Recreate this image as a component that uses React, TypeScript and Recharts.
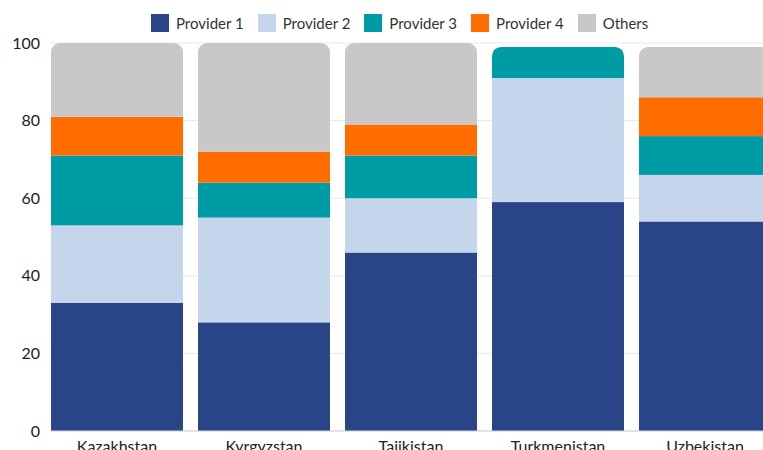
import React from "react";
import { BarChart, Bar, XAxis, YAxis, CartesianGrid, Legend } from "recharts";

const countries = ["Kazakhstan", "Kyrgyzstan", "Tajikistan", "Turkmenistan", "Uzbekistan"];
const provider1 = [33, 28, 46, 59, 54];
const provider2 = [20, 27, 14, 32, 12];
const provider3 = [18, 9, 11, 8, 10];
const provider4 = [10, 8, 8, 0, 10];
const others = [19, 28, 21, 0, 13];
const yTicks = [0, 20, 40, 60, 80, 100];

const seriesKeys = ["Provider 1", "Provider 2", "Provider 3", "Provider 4", "Others"];
const seriesColors = ["#2a4587", "#c5d5eb", "#009ca6", "#ff6c00", "#c8c8c8"];
const seriesValues = [provider1, provider2, provider3, provider4, others];

const data = countries.map((c, i) => {
  const row: Record<string, any> = { country: c };
  seriesKeys.forEach((k, s) => {
    row[k] = seriesValues[s][i];
  });
  return row;
});

const FONT = "Lato, 'Noto Sans', sans-serif";

const makeShape = (key: string) => (props: any) => {
  const { x, y, width, height, fill, payload } = props;
  if (!height || height <= 0) return <g />;
  const idx = seriesKeys.indexOf(key);
  let isTop = true;
  for (let j = idx + 1; j < seriesKeys.length; j++) {
    if (payload && payload[seriesKeys[j]] > 0) isTop = false;
  }
  if (!isTop) {
    return <rect x={x} y={y} width={width} height={height} fill={fill} />;
  }
  const r = Math.min(9, height, width / 2);
  const d = `M${x},${y + height} L${x},${y + r} A${r},${r} 0 0 1 ${x + r},${y} L${x + width - r},${y} A${r},${r} 0 0 1 ${x + width},${y + r} L${x + width},${y + height} Z`;
  return <path d={d} fill={fill} />;
};

const LegendContent = () => (
  <div style={{ display: "flex", alignItems: "center", fontFamily: FONT, fontSize: 15, color: "#333" }}>
    {seriesKeys.map((k, i) => (
      <div key={k} style={{ display: "flex", alignItems: "center", marginRight: 14 }}>
        <div style={{ width: 18, height: 18, background: seriesColors[i], marginRight: 7 }} />
        <span>{k}</span>
      </div>
    ))}
  </div>
);

export default function App() {
  return (
    <div style={{ position: "fixed", left: 0, top: 0, width: 763, height: 450, overflow: "hidden", background: "#fff" }}>
      <BarChart
        width={771}
        height={472}
        data={data}
        margin={{ top: 25, right: 0, bottom: 0, left: 0 }}
        barCategoryGap={7.5}
      >
        <Legend
          verticalAlign="top"
          content={<LegendContent />}
          wrapperStyle={{ position: "absolute", top: 14, left: 151, width: 600, height: 18 }}
        />
        <CartesianGrid horizontal vertical={false} stroke="#e8e8e8" />
        <XAxis
          dataKey="country"
          padding={{ left: -7.5, right: -7.5 }}
          tickLine={false}
          axisLine={{ stroke: "#d4d4d4" }}
          tick={{ fill: "#222", fontSize: 16, fontFamily: FONT }}
          tickMargin={4}
          height={41}
        />
        <YAxis
          domain={[0, 100]}
          ticks={yTicks}
          width={51}
          tickLine={false}
          axisLine={false}
          tick={{ fill: "#222", fontSize: 16, fontFamily: FONT }}
          tickMargin={5}
        />
        {seriesKeys.map((k, i) => (
          <Bar
            key={k}
            dataKey={k}
            stackId="a"
            fill={seriesColors[i]}
            isAnimationActive={false}
            shape={makeShape(k)}
          />
        ))}
      </BarChart>
    </div>
  );
}
